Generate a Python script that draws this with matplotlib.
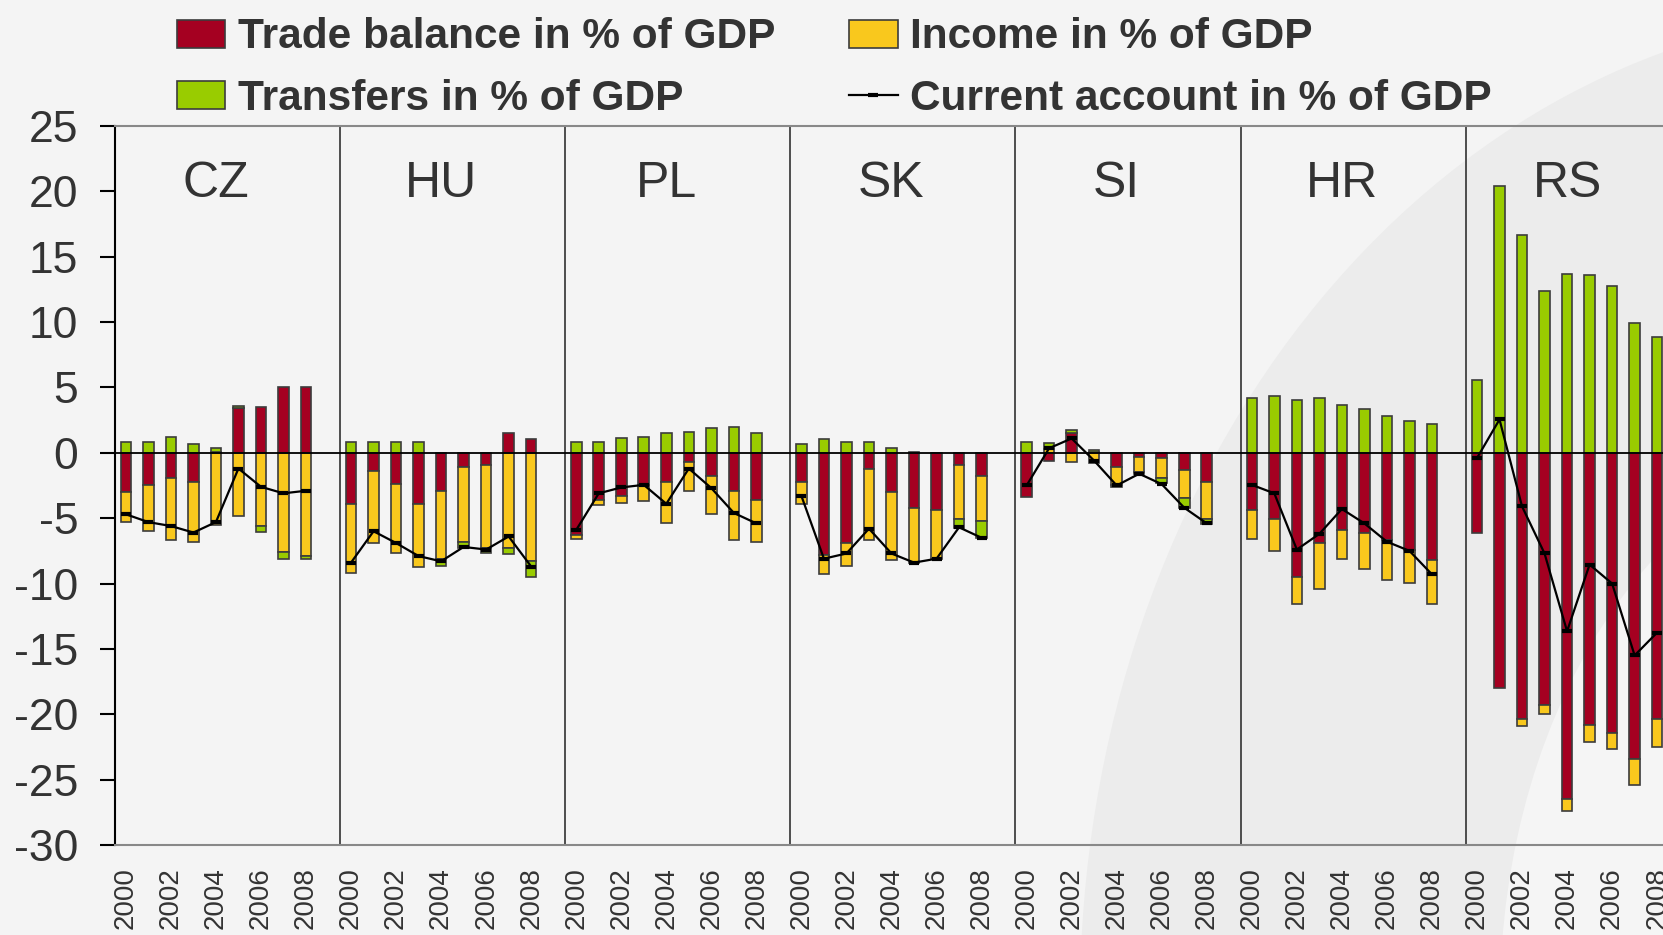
import matplotlib
matplotlib.use("Agg")
import matplotlib.pyplot as plt
from matplotlib.patches import Ellipse, Patch
from matplotlib.lines import Line2D
import numpy as np

plt.rcParams['font.family'] = ['Liberation Sans', 'DejaVu Sans']

countries = ['CZ', 'HU', 'PL', 'SK', 'SI', 'HR', 'RS']
years = [2000, 2001, 2002, 2003, 2004, 2005, 2006, 2007, 2008]

# % of GDP, one row per country, 2000..2008
trade = [
    [-3.0, -2.5, -1.9, -2.2, 0.1, 3.4, 3.5, 5.0, 5.0],
    [-3.9, -1.4, -2.4, -3.9, -2.9, -1.1, -0.9, 1.5, 1.05],
    [-6.3, -3.6, -3.3, -2.5, -2.2, -0.7, -1.8, -2.9, -3.6],
    [-2.2, -7.8, -6.9, -1.2, -3.0, -4.2, -4.4, -0.9, -1.8],
    [-3.4, -0.6, 1.5, 0.1, -1.1, -0.3, -0.4, -1.35, -2.2],
    [-4.4, -5.1, -9.5, -6.9, -5.9, -6.15, -6.7, -7.4, -8.2],
    [-6.1, -18.0, -20.4, -19.3, -26.5, -20.8, -21.4, -23.4, -20.4],
]
income = [
    [-2.3, -3.5, -4.8, -4.6, -5.5, -4.8, -5.6, -7.6, -7.9],
    [-5.3, -5.5, -5.3, -4.85, -5.2, -5.75, -6.35, -7.25, -8.3],
    [-0.33, -0.38, -0.56, -1.2, -3.2, -2.2, -2.9, -3.8, -3.2],
    [-1.75, -1.45, -1.75, -5.5, -5.2, -4.2, -3.75, -4.2, -3.4],
    [0.0, 0.33, -0.7, -0.8, -1.33, -1.15, -1.5, -2.1, -2.85],
    [-2.2, -2.4, -2.1, -3.5, -2.2, -2.75, -3.0, -2.55, -3.4],
    [0.0, 0.0, -0.5, -0.7, -0.9, -1.3, -1.25, -2.0, -2.1],
]
transfers = [
    [0.8, 0.8, 1.2, 0.65, 0.3, 0.2, -0.45, -0.55, -0.25],
    [0.8, 0.8, 0.8, 0.8, -0.55, -0.4, -0.4, -0.5, -1.2],
    [0.8, 0.8, 1.1, 1.2, 1.5, 1.6, 1.9, 2.0, 1.5],
    [0.65, 1.05, 0.8, 0.8, 0.4, 0.1, 0.0, -0.65, -1.35],
    [0.8, 0.45, 0.25, 0.1, -0.2, -0.2, -0.4, -0.75, -0.4],
    [4.2, 4.35, 4.05, 4.2, 3.65, 3.35, 2.85, 2.45, 2.2],
    [5.55, 20.4, 16.7, 12.35, 13.7, 13.6, 12.75, 9.95, 8.85],
]
current_account = [
    [-4.7, -5.3, -5.6, -6.1, -5.3, -1.2, -2.6, -3.1, -2.9],
    [-8.4, -6.0, -6.9, -7.9, -8.3, -7.2, -7.4, -6.4, -8.7],
    [-5.9, -3.1, -2.65, -2.45, -3.9, -1.2, -2.7, -4.6, -5.4],
    [-3.3, -8.1, -7.7, -5.8, -7.7, -8.4, -8.1, -5.7, -6.5],
    [-2.5, 0.35, 1.1, -0.6, -2.5, -1.6, -2.4, -4.2, -5.4],
    [-2.45, -3.1, -7.4, -6.2, -4.3, -5.4, -6.8, -7.5, -9.3],
    [-0.4, 2.55, -4.1, -7.7, -13.65, -8.55, -10.0, -15.5, -13.75],
]

series = [trade, income, transfers]
colors = ['#A50021', '#F9C81D', '#99CC00']
labels = ['Trade balance in % of GDP', 'Income in % of GDP',
          'Transfers in % of GDP', 'Current account in % of GDP']
edge = '#3c3c3c'
text_col = '#333333'

fig = plt.figure(figsize=(16.63, 9.35), dpi=100, facecolor='#f4f4f4')

# faint background swoosh
bg = fig.add_axes([0, 0, 1, 1], zorder=-5)
bg.set_xlim(0, 1663)
bg.set_ylim(935, 0)
bg.axis('off')
bg.add_patch(Ellipse((1900, 1000), 1640, 1980, color='#ececec', lw=0))
bg.add_patch(Ellipse((1900, 1000), 800, 1120, color='#f5f5f5', lw=0))

ax = fig.add_axes([0.0689, 0.0963, 0.9311, 0.7689])
ax.set_facecolor('none')

gap = 10
for p in range(len(countries)):
    x = np.arange(len(years)) + p * gap
    pos = np.zeros(len(years))
    neg = np.zeros(len(years))
    for s, c in zip(series, colors):
        v = np.array(s[p])
        bottom = np.where(v >= 0, pos, neg)
        ax.bar(x, v, bottom=bottom, width=0.47, color=c, edgecolor=edge,
               linewidth=1.2, zorder=2)
        pos = pos + np.where(v >= 0, v, 0)
        neg = neg + np.where(v < 0, v, 0)
    ax.plot(x, current_account[p], color='black', lw=1.6, marker='_',
            ms=7, mew=3, zorder=4)
    ax.text(p * gap + 4, 20.6, countries[p], ha='center', va='center',
            fontsize=36, color=text_col)
    if p > 0:
        ax.axvline(p * gap - 0.5, color='#404040', lw=1.3, zorder=1)

ax.axhline(0, color='black', lw=1.3, zorder=3)

ax.set_ylim(-30, 25)
ax.set_xlim(-0.5, 68.26)
yt = list(range(-30, 26, 5))
ax.set_yticks(yt)
ax.set_yticklabels([str(t) for t in yt], fontsize=32, color=text_col)
ax.tick_params(axis='y', direction='out', length=11, width=1.5, pad=15)

xt = [p * gap + j for p in range(len(countries)) for j in range(0, len(years), 2)]
xl = [str(years[j]) for p in range(len(countries)) for j in range(0, len(years), 2)]
ax.set_xticks(xt)
ax.set_xticklabels(xl, rotation=90, fontsize=20, color=text_col, va='top')
ax.tick_params(axis='x', length=0, pad=16)

ax.spines['right'].set_visible(False)
ax.spines['left'].set_color('black')
ax.spines['left'].set_linewidth(1.5)
ax.spines['top'].set_color('#888888')
ax.spines['top'].set_linewidth(1.5)
ax.spines['bottom'].set_color('#888888')
ax.spines['bottom'].set_linewidth(1.5)

handles = [
    Patch(facecolor=colors[0], edgecolor=edge, lw=1.2),
    Patch(facecolor=colors[2], edgecolor=edge, lw=1.2),
    Patch(facecolor=colors[1], edgecolor=edge, lw=1.2),
    Line2D([], [], color='black', lw=1.6, marker='_', ms=7, mew=3),
]
leg_labels = [labels[0], labels[2], labels[1], labels[3]]
fig.legend(handles, leg_labels, ncol=2, loc='upper left',
           bbox_to_anchor=(0.0936, 1.004), frameon=False, borderpad=0,
           prop={'size': 30.5, 'weight': 'bold'}, labelcolor=text_col,
           handlelength=1.14, handleheight=0.64, handletextpad=0.3,
           columnspacing=1.75, labelspacing=0.5)

fig.savefig('out.png', dpi=100, facecolor=fig.get_facecolor())
